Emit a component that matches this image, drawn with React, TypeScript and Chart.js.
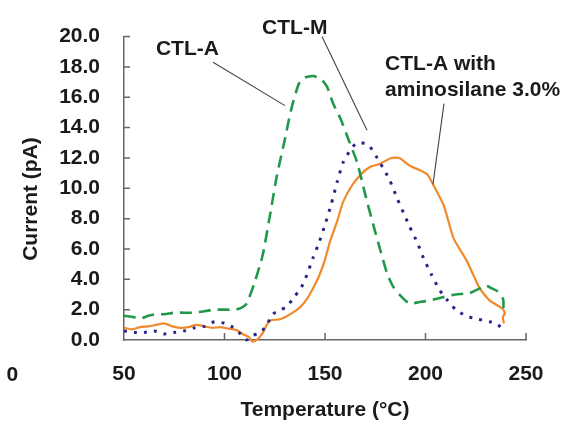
import React, { useEffect, useRef } from "react";
import { Chart, registerables } from "chart.js";

Chart.register(...registerables);

// CTL-A (green dashed)
const ctlATemps = [50, 55, 58, 62, 66, 70, 75, 80, 85, 90, 95, 100, 105, 108, 111, 115, 119, 123, 126, 130, 133, 137, 140, 144, 148, 151, 154, 158, 162, 166, 170, 174, 178, 181, 184, 187, 192, 197, 202, 208, 215, 222, 227, 230, 233, 236, 238.6, 238.8];
const ctlAValues = [1.6, 1.5, 1.4, 1.6, 1.7, 1.7, 1.8, 1.8, 1.8, 1.9, 2.0, 2.0, 2.0, 2.1, 2.4, 3.8, 5.6, 8.5, 10.8, 13.2, 15.1, 16.9, 17.3, 17.4, 17.2, 16.7, 15.6, 14.5, 13.1, 11.7, 9.6, 7.6, 5.7, 4.35, 3.5, 3.0, 2.4, 2.5, 2.6, 2.8, 3.0, 3.1, 3.4, 3.6, 3.4, 3.2, 2.7, 2.1];

// CTL-M (blue dotted)
const ctlMTemps = [50, 55, 60, 65, 70, 75, 80, 85, 90, 95, 100, 104, 108, 111, 114, 118, 121, 124, 128, 131, 135, 138, 141, 144, 147, 150, 153, 156, 159, 162, 165, 168, 172, 176, 179, 182, 186, 189, 192, 196, 199, 203, 207, 211, 215, 220, 225, 232, 236, 239];
const ctlMValues = [0.6, 0.5, 0.5, 0.6, 0.4, 0.5, 0.6, 0.8, 0.9, 1.2, 1.1, 0.85, 0.4, 0.0, 0.3, 0.5, 1.0, 1.7, 2.0, 2.2, 2.9, 3.4, 4.3, 5.4, 6.4, 7.6, 8.9, 10.4, 11.7, 12.4, 12.9, 13.0, 12.8, 12.0, 11.3, 10.6, 9.3, 8.4, 7.5, 6.4, 5.4, 4.3, 3.3, 2.6, 2.0, 1.6, 1.4, 1.2, 1.0, 0.65];

// CTL-A with aminosilane 3.0% (orange solid)
const aminoTemps = [50, 54, 58, 62, 66, 70, 74, 78, 82, 86, 90, 94, 98, 102, 106, 109, 112, 114, 116, 119, 121, 123, 127, 130, 134, 137.5, 141, 144, 147, 150, 152.5, 156, 159, 163.5, 168.5, 172.4, 177, 183, 187, 192, 197, 201, 204, 209, 214, 220.6, 227, 232, 238, 239.5, 238.5, 239];
const aminoValues = [0.8, 0.7, 0.85, 0.9, 1.0, 1.1, 0.9, 0.8, 0.85, 1.0, 0.9, 0.8, 0.85, 0.75, 0.65, 0.4, 0.2, -0.1, 0.0, 0.45, 1.0, 1.3, 1.35, 1.5, 1.8, 2.15, 2.7, 3.4, 4.2, 5.3, 6.5, 7.8, 9.1, 10.2, 11.0, 11.4, 11.6, 12.0, 12.0, 11.5, 11.2, 10.9, 10.2, 8.9, 6.7, 5.2, 3.4, 2.6, 2.1, 1.8, 1.5, 1.1];

const xTicks = [50, 100, 150, 200, 250];
const yTicks = [0, 2, 4, 6, 8, 10, 12, 14, 16, 18, 20];

// annotations (data coordinates)
const labelCtlA = { text: "CTL-A", x: 65.9, y: 19.19 };
const labelCtlM = { text: "CTL-M", x: 118.7, y: 20.58 };
const labelAmino1 = { text: "CTL-A with", x: 179.9, y: 18.18 };
const labelAmino2 = { text: "aminosilane 3.0%", x: 179.9, y: 16.46 };
const leaderCtlA = [[94.3, 18.31], [130.1, 15.45]];
const leaderCtlM = [[148.5, 20.0], [170.9, 13.83]];
const leaderAmino = [[209.2, 15.58], [203.7, 10.26]];
const strayLabel = { text: "0", x: -5.5, y: -2.3 };

const FONT = '"Liberation Sans", Arial, sans-serif';
const toPts = (xs: number[], ys: number[]) => xs.map((x, i) => ({ x, y: ys[i] }));

const overlay = {
  id: "overlay",
  afterDraw(chart: any) {
    const { ctx, scales } = chart;
    const xs = scales.x;
    const ys = scales.y;
    const area = chart.chartArea;
    ctx.save();
    // inside tick marks
    ctx.strokeStyle = "#666";
    ctx.lineWidth = 1.5;
    ctx.beginPath();
    xTicks.forEach((t) => {
      if (t === 50) return;
      const px = xs.getPixelForValue(t);
      ctx.moveTo(px, area.bottom);
      ctx.lineTo(px, area.bottom - 7);
    });
    yTicks.forEach((t) => {
      if (t === 0) return;
      const py = ys.getPixelForValue(t);
      ctx.moveTo(area.left, py);
      ctx.lineTo(area.left + 6, py);
    });
    ctx.stroke();

    // leader lines
    ctx.strokeStyle = "#444";
    ctx.lineWidth = 1.1;
    [leaderCtlA, leaderCtlM, leaderAmino].forEach((ln) => {
      ctx.beginPath();
      ctx.moveTo(xs.getPixelForValue(ln[0][0]), ys.getPixelForValue(ln[0][1]));
      ctx.lineTo(xs.getPixelForValue(ln[1][0]), ys.getPixelForValue(ln[1][1]));
      ctx.stroke();
    });

    // labels
    ctx.fillStyle = "#1a1a1a";
    ctx.font = `bold 21px ${FONT}`;
    ctx.textAlign = "left";
    ctx.textBaseline = "middle";
    [labelCtlA, labelCtlM, labelAmino1, labelAmino2].forEach((l) => {
      ctx.fillText(l.text, xs.getPixelForValue(l.x), ys.getPixelForValue(l.y));
    });
    ctx.textAlign = "center";
    ctx.fillText(strayLabel.text, xs.getPixelForValue(strayLabel.x), ys.getPixelForValue(strayLabel.y));

    // axis titles
    ctx.textAlign = "center";
    ctx.textBaseline = "alphabetic";
    ctx.fillText("Temperature (°C)", (area.left + area.right) / 2, 416);
    ctx.save();
    ctx.translate(31, 199);
    ctx.rotate(-Math.PI / 2);
    ctx.textBaseline = "middle";
    ctx.fillText("Current (pA)", 0, 0);
    ctx.restore();
    ctx.restore();
  },
};

export default function App() {
  const ref = useRef<HTMLCanvasElement>(null);
  useEffect(() => {
    if (!ref.current) return;
    const chart = new Chart(ref.current, {
      type: "line",
      data: {
        datasets: [
          {
            label: "CTL-A",
            data: toPts(ctlATemps, ctlAValues),
            borderColor: "#22994a",
            borderWidth: 2.6,
            borderDash: [12, 7],
            pointRadius: 0,
            tension: 0.2,
            clip: 6,
          },
          {
            label: "CTL-M",
            data: toPts(ctlMTemps, ctlMValues),
            borderColor: "#27278a",
            borderWidth: 3,
            borderDash: [3, 7],
            pointRadius: 0,
            tension: 0.2,
            clip: 6,
          },
          {
            label: "CTL-A with aminosilane 3.0%",
            data: toPts(aminoTemps, aminoValues),
            borderColor: "#f08a2c",
            borderWidth: 2.2,
            pointRadius: 0,
            tension: 0.2,
            clip: 6,
          },
        ],
      },
      options: {
        animation: false,
        responsive: false,
        devicePixelRatio: 1,
        layout: { padding: { top: 32, right: 45, left: 0, bottom: 0 } },
        plugins: { legend: { display: false }, tooltip: { enabled: false } },
        scales: {
          x: {
            type: "linear",
            min: 50,
            max: 250,
            afterBuildTicks: (s: any) => {
              s.ticks = xTicks.map((v) => ({ value: v }));
            },
            afterFit: (s: any) => {
              s.height = 82;
            },
            grid: { drawOnChartArea: false, drawTicks: false },
            border: { display: true, color: "#666", width: 1.5 },
            ticks: {
              padding: 22,
              color: "#1a1a1a",
              font: { family: FONT, size: 21, weight: "bold" },
              maxRotation: 0,
            },
          },
          y: {
            type: "linear",
            min: 0,
            max: 20,
            afterBuildTicks: (s: any) => {
              s.ticks = yTicks.map((v) => ({ value: v }));
            },
            afterFit: (s: any) => {
              s.width = 124;
            },
            grid: { drawOnChartArea: false, drawTicks: false },
            border: { display: true, color: "#666", width: 1.5 },
            ticks: {
              padding: 24,
              color: "#1a1a1a",
              font: { family: FONT, size: 21, weight: "bold" },
              callback: (v: any) => Number(v).toFixed(1),
            },
          },
        },
      },
      plugins: [overlay],
    } as any);
    return () => chart.destroy();
  }, []);
  return (
    <div style={{ position: "fixed", left: 0, top: 0, width: 571, height: 422, background: "#fff" }}>
      <canvas ref={ref} width={571} height={422} style={{ width: 571, height: 422, display: "block" }} />
    </div>
  );
}
